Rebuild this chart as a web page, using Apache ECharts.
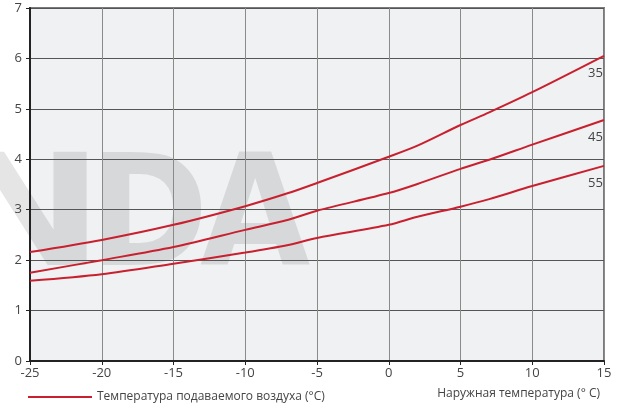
<!DOCTYPE html>
<html>
<head>
<meta charset="utf-8">
<script src="https://cdn.jsdelivr.net/npm/echarts@6/dist/echarts.min.js"></script>
<style>
  html, body { margin: 0; padding: 0; background: #fff; }
  #chart { width: 630px; height: 406px; }
</style>
</head>
<body>
<div id="chart"></div>
<script>
// outside temperature, °C
const outsideTemp = [-25, -20, -15, -10, -7, -5, 0, 2, 5, 7, 10, 15];
// curves for supply air temperature 35 / 45 / 55
const curve35 = [2.16, 2.40, 2.70, 3.07, 3.33, 3.53, 4.05, 4.27, 4.68, 4.93, 5.33, 6.05];
const curve45 = [1.75, 2.00, 2.26, 2.60, 2.80, 2.98, 3.33, 3.51, 3.81, 3.99, 4.29, 4.78];
const curve55 = [1.59, 1.72, 1.93, 2.15, 2.30, 2.44, 2.70, 2.86, 3.06, 3.21, 3.47, 3.87];
const curveLabels = ['35', '45', '55'];

const legendName = 'Температура подаваемого воздуха (°C)';
const axisName = 'Наружная температура (° C)';
const red = '#c8202e';

function pairs(ys) {
  return outsideTemp.map((x, i) => [x, ys[i]]);
}

function makeSeries(ys, label, dy) {
  return {
    name: legendName,
    type: 'line',
    smooth: 0.3,
    symbol: 'none',
    data: pairs(ys),
    lineStyle: { color: red, width: 2 },
    itemStyle: { color: red },
    endLabel: {
      show: true,
      formatter: label,
      color: '#444',
      fontSize: 13,
      fontFamily: 'Open Sans',
      offset: [-24, dy]
    },
    z: 5
  };
}

// faint watermark letters behind the plot
function mark(ch, x, sx) {
  return {
    type: 'text', z: -10, silent: true,
    x: x, y: 147, scaleX: sx,
    style: {
      text: ch,
      fill: 'rgba(0,0,0,0.1)',
      font: 'bold 155px "DejaVu Sans"',
      verticalAlign: 'top'
    }
  };
}

const chart = echarts.init(document.getElementById('chart'));
chart.setOption({
  animation: false,
  textStyle: { fontFamily: 'Open Sans' },
  grid: {
    left: 30, right: 26, top: 8, bottom: 45,
    show: true,
    backgroundColor: 'transparent',
    borderColor: '#7a7a7a',
    borderWidth: 2
  },
  graphic: [
    {
      type: 'rect', z: -20, silent: true,
      shape: { x: 30, y: 8, width: 574, height: 353 },
      style: { fill: '#f0f1f3' }
    },
    mark('N', -52, 1.2),
    mark('D', 89, 0.93),
    mark('A', 200, 0.92)
  ],
  title: {
    text: axisName,
    right: 25, top: 383,
    textStyle: { fontSize: 12, fontWeight: 'normal', color: '#444', fontFamily: 'Open Sans' }
  },
  legend: {
    left: 23, top: 386,
    data: [legendName],
    icon: 'rect',
    itemWidth: 64, itemHeight: 2,
    itemGap: 6,
    textStyle: { fontSize: 12, color: '#444', fontFamily: 'Open Sans' }
  },
  xAxis: {
    type: 'value',
    min: -25, max: 15, interval: 5,
    axisLine: { show: true, onZero: false, lineStyle: { color: '#222', width: 2 } },
    axisTick: { show: true, length: 4, lineStyle: { color: '#222' } },
    axisLabel: { color: '#444', fontSize: 13, margin: 6 },
    splitLine: { show: true, lineStyle: { color: '#8a8a8a', width: 1 } }
  },
  yAxis: {
    type: 'value',
    min: 0, max: 7, interval: 1,
    axisLine: { show: true, onZero: false, lineStyle: { color: '#222', width: 2 } },
    axisTick: { show: true, length: 4, lineStyle: { color: '#222' } },
    axisLabel: { color: '#444', fontSize: 13, margin: 8 },
    splitLine: { show: true, lineStyle: { color: '#555', width: 1 } }
  },
  series: [
    makeSeries(curve35, curveLabels[0], 17),
    makeSeries(curve45, curveLabels[1], 17),
    makeSeries(curve55, curveLabels[2], 17)
  ]
});
</script>
</body>
</html>
